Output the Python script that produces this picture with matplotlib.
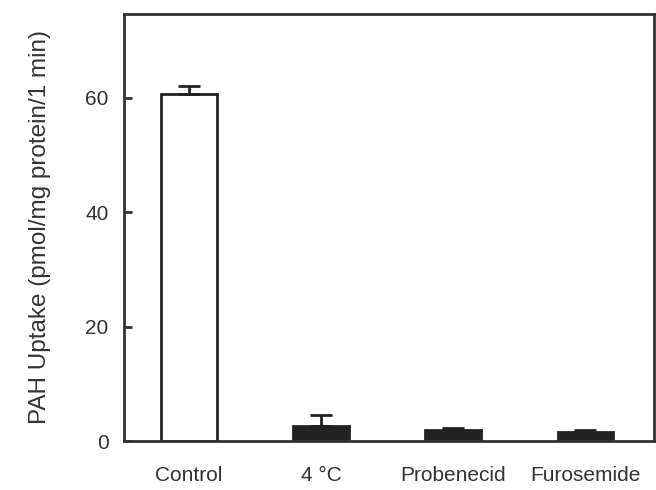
import numpy as np
import matplotlib.pyplot as plt

plt.rcParams['font.family'] = ['Liberation Sans', 'DejaVu Sans']

conditions = ['Control', '4 \u00b0C', 'Probenecid', 'Furosemide']
uptake = [60.6, 2.6, 1.9, 1.6]
uptake_err = [1.5, 1.9, 0.3, 0.3]
filled = [False, True, True, True]

fig = plt.figure(figsize=(6.56, 4.9), dpi=100)
ax = fig.add_axes([124 / 656, 49 / 490, 530 / 656, 427 / 490])

x = np.arange(len(conditions))
ink = '#222222'
face = ['white' if not f else ink for f in filled]
ax.bar(x, uptake, width=0.42, color=face, edgecolor=ink, linewidth=2, zorder=2)
# only the upper half of each error bar is drawn
ax.errorbar(x, uptake, yerr=[np.zeros(len(x)), uptake_err], fmt='none',
            ecolor=ink, elinewidth=2, capsize=8, capthick=2, zorder=3)

ax.set_xlim(-0.49, 3.52)
ax.set_ylim(0, 74.6)
ax.set_yticks([0, 20, 40, 60])
ax.set_xticks(x)
ax.set_xticklabels(conditions)
ax.tick_params(axis='y', direction='in', length=6, width=2, color='#333333',
               labelsize=15, labelcolor='#333333', pad=11)
ax.tick_params(axis='x', length=0, labelsize=15, labelcolor='#333333', pad=18)
for s in ax.spines.values():
    s.set_linewidth(2)
    s.set_color('#333333')

ax.set_ylabel('PAH Uptake (pmol/mg protein/1 min)', fontsize=17.5,
              color='#333333', labelpad=25)

fig.savefig('out.png', dpi=100)
